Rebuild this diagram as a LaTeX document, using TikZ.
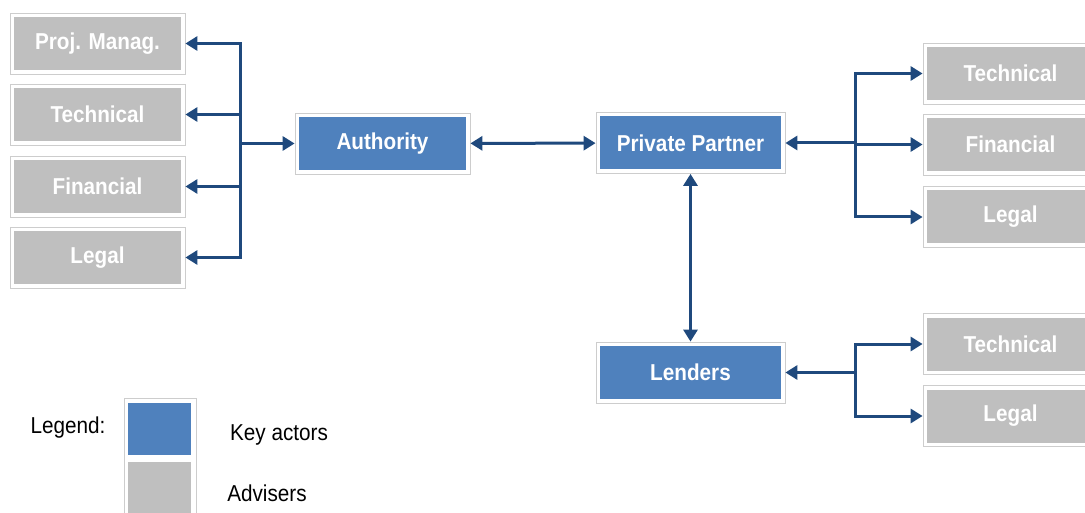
\documentclass[tikz,border=0pt]{standalone}
\usepackage{fontspec}
\setmainfont{Liberation Sans}[FakeStretch=0.9]
\usepackage{tikz}
\usetikzlibrary{arrows.meta}

\definecolor{keyblue}{RGB}{79,129,189}
\definecolor{advgray}{RGB}{191,191,191}
\definecolor{framegray}{RGB}{205,205,205}
\definecolor{linkblue}{RGB}{31,73,125}

\begin{document}
\begin{tikzpicture}[x=1pt, y=-1pt,
  >={Triangle[length=12pt,width=14pt]},
  box/.style={draw=framegray, line width=0.8pt, fill=white,
    minimum width=175pt, minimum height=61pt, inner sep=0pt,
    text=white, font=\fontsize{23}{27}\selectfont\bfseries,
    path picture={\fill[#1] ([shift={(4pt,4pt)}]path picture bounding box.south west)
      rectangle ([shift={(-4pt,-4pt)}]path picture bounding box.north east);}},
  actor/.style={box=keyblue},
  adviser/.style={box=advgray},
  link/.style={draw=linkblue, line width=3pt},
  legendtext/.style={font=\fontsize{23}{27}\selectfont}]

\useasboundingbox (0,0) rectangle (1085,513);

% Key actors
\node[actor] (auth) at (382.5,143.5) {Authority};
\node[actor, minimum width=189pt] (pp) at (690.5,143) {Private Partner};
\node[actor, minimum width=189pt] (lend) at (690.5,372.5) {Lenders};

% Advisers of the authority
\node[adviser] (apm) at (97.5,43.5) {Proj. Manag.};
\node[adviser] (atec) at (97.5,114.5) {Technical};
\node[adviser] (afin) at (97.5,186.5) {Financial};
\node[adviser] (aleg) at (97.5,257.5) {Legal};

% Advisers of the private partner
\node[adviser] (ptec) at (1010.5,73.5) {Technical};
\node[adviser] (pfin) at (1010.5,144.5) {Financial};
\node[adviser] (pleg) at (1010.5,217) {Legal};

% Advisers of the lenders
\node[adviser] (ltec) at (1010.5,344) {Technical};
\node[adviser] (lleg) at (1010.5,416) {Legal};

% Arrows
\coordinate (ja) at (240,143.5);
\coordinate (jp) at (855,143);
\coordinate (jl) at (855,372.5);
\draw[link, ->] (ja) -- (auth.west);
\foreach \n in {apm,atec,afin,aleg}
  \draw[link, ->] (ja) |- (\n.east);
\draw[link, <->] (auth) -- (pp);
\draw[link, <-] (pp.east) -- (jp);
\foreach \n in {ptec,pfin,pleg}
  \draw[link, ->] (jp) |- (\n.west);
\draw[link, <->] (pp) -- (lend);
\draw[link, <-] (lend.east) -- (jl);
\foreach \n in {ltec,lleg}
  \draw[link, ->] (jl) |- (\n.west);

% Legend
\node[legendtext] (leg) at (68,428) {Legend:};
\draw[framegray, line width=0.8pt, fill=white] (124,398) rectangle (196,530);
\fill[keyblue] (128,403) rectangle (191,455);
\fill[advgray] (128,462) rectangle (191,530);
\node[legendtext] (lkey) at (279,435) {Key actors};
\node[legendtext] (ladv) at (267,493) {Advisers};

\end{tikzpicture}
\end{document}
